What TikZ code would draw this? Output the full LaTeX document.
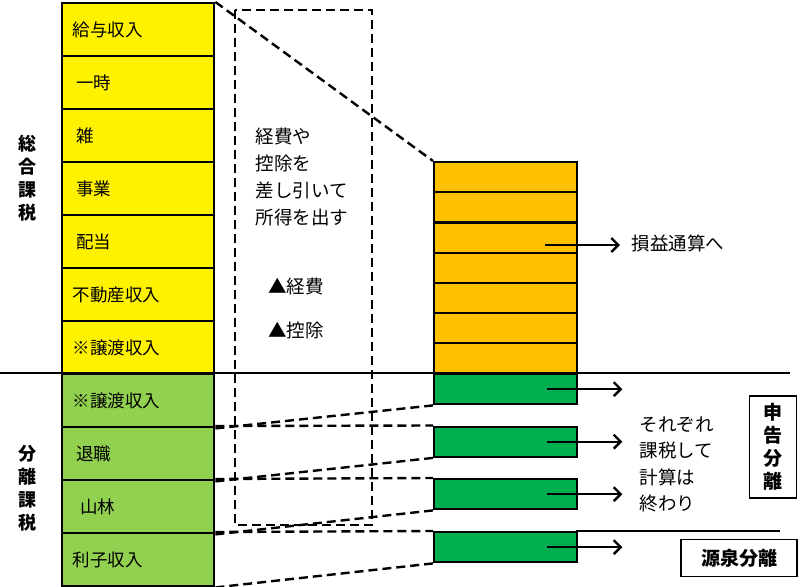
\documentclass[tikz,border=0pt]{standalone}
\usepackage{fontspec}
\setmainfont{Noto Sans CJK JP}
\usetikzlibrary{positioning, arrows.meta, calc}
\definecolor{amber}{HTML}{FFC000}
\definecolor{leaf}{HTML}{92D050}
\definecolor{grass}{HTML}{00B050}

\tikzset{
  item/.style={draw, line width=2.4pt, minimum width=152pt, minimum height=53pt, anchor=north west, inner sep=0pt},
  itemtext/.style={font=\fontsize{17.5}{20}\selectfont, anchor=west},
  strip/.style={draw, line width=2.2pt, fill=amber, minimum width=143pt, minimum height=30.2pt, anchor=north west, inner sep=0pt},
  bar/.style={draw, line width=2.4pt, fill=grass, minimum width=143pt, minimum height=30pt, anchor=north west, inner sep=0pt},
  guide/.style={line width=2.4pt, dash pattern=on 9pt off 5pt},
  pointer/.style={-{Straight Barb[length=7pt]}, line width=2.4pt},
  tag/.style={draw, line width=1.5pt, font=\fontsize{19}{23}\selectfont\bfseries, inner sep=3pt}
}

\begin{document}
\begin{tikzpicture}[x=1pt, y=-1pt]
    \useasboundingbox (0,0) rectangle (807,587);

    % left column
    \foreach \n/\t [count=\i from 0] in {a/給与収入, b/{\ 一時}, c/{\ 雑}, d/{\ 事業}, e/{\ 配当}, f/不動産収入, g/※譲渡収入} {
        \node[item, fill=yellow] (\n) at (61, 2+\i*53) {};
        \node[itemtext] at ($(\n.west)+(8,0)$) {\t};
    }
    \foreach \n/\t [count=\i from 0] in {h/※譲渡収入, k/{\ 退職}, m/{\ \ 山林}, p/利子収入} {
        \node[item, fill=leaf] (\n) at (61, 373+\i*53) {};
        \node[itemtext] at ($(\n.west)+(8,0)$) {\t};
    }

    \node[font=\fontsize{18}{23}\selectfont\bfseries, align=center] (sogo) at (27,178) {総\\合\\課\\税};
    \node[font=\fontsize{18}{23}\selectfont\bfseries, align=center] (bunri) at (27,488) {分\\離\\課\\税};

    % dashed box
    \draw[guide] (235,10) rectangle (372,525);
    \node[font=\fontsize{18.5}{27}\selectfont, align=left] (note) at (302,177) {経費や\\控除を\\差し引いて\\所得を出す};
    \node[font=\fontsize{18.5}{22}\selectfont] (keihi) at (296,286) {▲経費};
    \node[font=\fontsize{18.5}{22}\selectfont] (kojo) at (296,330) {▲控除};

    % orange stack
    \foreach \i in {0,...,6} {
        \node[strip] (o\i) at (433, 161+\i*30.2) {};
    }

    % separators
    \draw[line width=2.4pt] (0,373) -- (790,373);
    \draw[line width=2.4pt] (576,531) -- (780,531);

    % green bars
    \foreach \n/\y in {g1/373, g2/425.5, g3/478, g4/531} {
        \node[bar] (\n) at (433,\y) {};
    }

    % dashed guides
    \draw[guide] (a.north east) -- (o0.north west);
    \draw[guide] (h.south east) -- (g1.south west);
    \draw[guide] (k.north east) -- (g2.north west);
    \draw[guide] (k.south east) -- (g2.south west);
    \draw[guide] (m.north east) -- (g3.north west);
    \draw[guide] (m.south east) -- (g3.south west);
    \draw[guide] (p.north east) -- (g4.north west);
    \draw[guide] (p.south east) -- (g4.south west);

    % arrows
    \coordinate (t0) at (620,245);
    \draw[pointer] (545,245) -- (t0);
    \node[font=\fontsize{18.5}{22}\selectfont, anchor=west] (tsusan) at (628,243) {損益通算へ};
    \foreach \n in {g1,g2,g3,g4} {
        \coordinate (\n e) at ($(\n.east)+(44,0)$);
        \draw[pointer] ($(\n.east)+(-31,0)$) -- (\n e);
    }

    \node[font=\fontsize{18.5}{26.5}\selectfont, align=left, anchor=north west] (owari) at (636,413) {それぞれ\\課税して\\計算は\\終わり};
    \node[tag, align=center, minimum width=47pt, minimum height=102pt] (shinkoku) at (773,447) {申\\告\\分\\離};
    \node[tag, minimum width=116pt, minimum height=37pt] (gensen) at (739,558) {源泉分離};
\end{tikzpicture}
\end{document}
